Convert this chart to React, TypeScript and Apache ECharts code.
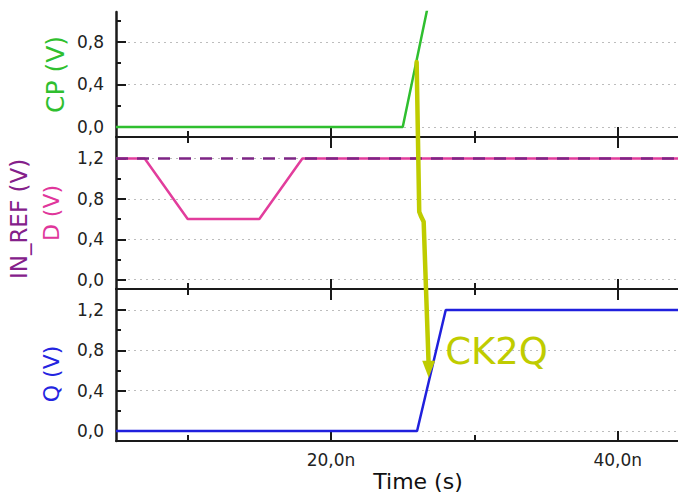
import React, { useEffect, useRef } from 'react';
import * as echarts from 'echarts';

// ---- data ----
const timeMin = 5;
const timeMax = 44.2;
const timeTicksMajor = [20, 40];
const timeTicksMinor = [10, 30];
const voltTicksMajor = [0, 0.4, 0.8, 1.2];
const voltTicksMinor = [0.2, 0.6, 1.0];

const cpTime = [5, 25, 26.85, 44.2];
const cpVolt = [0, 0, 1.2, 1.2];
const dTime = [5, 7, 10, 15, 18, 44.2];
const dVolt = [1.2, 1.2, 0.6, 0.6, 1.2, 1.2];
const inRefTime = [5, 44.2];
const inRefVolt = [1.2, 1.2];
const qTime = [5, 26, 28, 44.2];
const qVolt = [0, 0, 1.2, 1.2];

// annotation (CK2Q arrow) in data space: panel, time, volt
const annotPanel = [0, 1, 1, 1, 2, 2];
const annotTime = [25.97, 26.15, 26.29, 26.46, 26.8, 26.81];
const annotVolt = [0.612, 0.672, 0.622, 0.573, 0.686, 0.527];
const annotLabel = 'CK2Q';
const annotLabelTime = 27.96;
const annotLabelVolt = 0.785;

const FONT = 'DejaVu Sans';
const AXIS_COLOR = '#1a1a1a';
const fmtV = (v: number) => v.toFixed(1).replace('.', ',');
const fmtT = (v: number) => v.toFixed(1).replace('.', ',') + 'n';
const zip = (a: number[], b: number[]) => a.map((x, i) => [x, b[i]]);

const panels = [
  { top: 12, height: 125, min: -0.094, max: 1.082, name: 'CP (V)', color: '#2fbf2f', nameGap: 48, nameSize: 25 },
  { top: 137, height: 152, min: -0.092, max: 1.412, name: 'D (V)', color: '#e0369b', nameGap: 54, nameSize: 22 },
  { top: 289, height: 152, min: -0.099, max: 1.408, name: 'Q (V)', color: '#2424e0', nameGap: 54, nameSize: 22 },
];

export default function App() {
  const ref = useRef<HTMLDivElement>(null);
  useEffect(() => {
    if (!ref.current) return;
    const chart = echarts.init(ref.current, undefined, { renderer: 'svg' });

    const grids: any[] = [];
    const xAxes: any[] = [];
    const yAxes: any[] = [];
    const mainX: number[] = [];
    const mainY: number[] = [];

    const mkX = (g: number, position: string, ticks: number[], len: number, line: boolean, label: boolean) => {
      xAxes.push({
        type: 'value',
        gridIndex: g,
        position,
        min: timeMin,
        max: timeMax,
        axisLine: { show: line, onZero: false, lineStyle: { color: AXIS_COLOR, width: 2 } },
        axisTick: { show: true, inside: true, length: len, customValues: ticks, lineStyle: { color: AXIS_COLOR, width: 2 } },
        axisLabel: {
          show: label,
          customValues: ticks,
          formatter: fmtT,
          margin: 10,
          color: '#222',
          fontFamily: FONT,
          fontSize: 17,
        },
        splitLine: { show: false },
        ...(label
          ? {
              name: 'Time (s)',
              nameLocation: 'middle',
              nameGap: 29,
              nameMoveOverlap: false,
              nameTextStyle: { color: '#111', fontFamily: FONT, fontSize: 22, padding: [0, 0, 0, 42] },
            }
          : {}),
      });
      return xAxes.length - 1;
    };

    panels.forEach((p, g) => {
      grids.push({ left: 116, right: 0, top: p.top, height: p.height, containLabel: false, outerBoundsMode: 'none' });
      const majorVals = voltTicksMajor.filter((v) => v >= p.min && v <= p.max);
      const minorVals = voltTicksMinor.filter((v) => v >= p.min && v <= p.max);
      mainY[g] = yAxes.length;
      yAxes.push({
        type: 'value',
        gridIndex: g,
        position: 'left',
        min: p.min,
        max: p.max,
        minInterval: 0.4,
        maxInterval: 0.4,
        axisLine: { show: true, onZero: false, lineStyle: { color: AXIS_COLOR, width: 2.5 } },
        axisTick: { show: true, inside: true, length: 10, customValues: majorVals, lineStyle: { color: AXIS_COLOR, width: 2 } },
        axisLabel: { show: true, customValues: majorVals, formatter: fmtV, margin: 12, color: '#222', fontFamily: FONT, fontSize: 17 },
        splitLine: { show: true, lineStyle: { color: '#bdbdbd', width: 1, type: [2, 4] } },
        name: p.name,
        nameLocation: 'middle',
        nameGap: p.nameGap,
        nameMoveOverlap: false,
        nameTextStyle: { color: p.color, fontFamily: FONT, fontSize: p.nameSize, padding: g === 2 ? [0, 18, 0, 0] : 0 },
      });
      yAxes.push({
        type: 'value',
        gridIndex: g,
        position: 'left',
        min: p.min,
        max: p.max,
        axisLine: { show: false },
        axisTick: { show: true, inside: true, length: 5, customValues: minorVals, lineStyle: { color: AXIS_COLOR, width: 2 } },
        axisLabel: { show: false },
        splitLine: { show: false },
      });
      if (g === 1) {
        yAxes.push({
          type: 'value',
          gridIndex: g,
          position: 'left',
          min: p.min,
          max: p.max,
          axisLine: { show: false },
          axisTick: { show: false },
          axisLabel: { show: false },
          splitLine: { show: false },
          name: 'IN_REF (V)',
          nameLocation: 'middle',
          nameGap: 86,
          nameMoveOverlap: false,
          nameTextStyle: { color: '#84208a', fontFamily: FONT, fontSize: 23, padding: [0, 12, 0, 0] },
        });
      }
      mainX[g] = mkX(g, 'bottom', timeTicksMajor, 10, true, g === 2);
      mkX(g, 'bottom', timeTicksMinor, 6, false, false);
      if (g > 0) {
        mkX(g, 'top', timeTicksMajor, 11, false, false);
        mkX(g, 'top', timeTicksMinor, 6, false, false);
      }
    });

    const lineSeries = (g: number, name: string, data: number[][], color: string, extra: any = {}) => ({
      type: 'line',
      name,
      xAxisIndex: mainX[g],
      yAxisIndex: mainY[g],
      data,
      showSymbol: false,
      symbol: 'none',
      clip: true,
      lineStyle: { color, width: 2.5, ...extra },
      z: 3,
    });

    chart.setOption({
      animation: false,
      backgroundColor: '#ffffff',
      grid: grids,
      xAxis: xAxes,
      yAxis: yAxes,
      series: [
        lineSeries(0, 'CP', zip(cpTime, cpVolt), '#2fbf2f'),
        lineSeries(1, 'D', zip(dTime, dVolt), '#e23d9c'),
        { ...lineSeries(1, 'IN_REF', zip(inRefTime, inRefVolt), '#7d2585', { type: [12, 9] }), z: 4 },
        lineSeries(2, 'Q', zip(qTime, qVolt), '#2020dd'),
      ],
    });

    const pts = annotTime.map((t, i) =>
      chart.convertToPixel({ xAxisIndex: mainX[annotPanel[i]], yAxisIndex: mainY[annotPanel[i]] }, [t, annotVolt[i]]) as number[]
    );
    const tip = pts[pts.length - 1];
    const linePts = pts.slice(0, pts.length - 1);
    const lbl = chart.convertToPixel({ xAxisIndex: mainX[2], yAxisIndex: mainY[2] }, [annotLabelTime, annotLabelVolt]) as number[];
    const annotColor = '#bfcc00';

    chart.setOption({
      graphic: [
        {
          type: 'polyline',
          shape: { points: linePts },
          style: { stroke: annotColor, lineWidth: 4.5, fill: null, lineJoin: 'round', lineCap: 'round' },
          z: 100,
        },
        {
          type: 'polygon',
          shape: { points: [[tip[0] - 6.5, tip[1] - 17], [tip[0] + 6.5, tip[1] - 17], [tip[0], tip[1]]] },
          style: { fill: annotColor },
          z: 100,
        },
        {
          type: 'text',
          x: lbl[0],
          y: lbl[1],
          style: {
            text: annotLabel,
            fill: annotColor,
            font: `37px "${FONT}"`,
            textAlign: 'left',
            textVerticalAlign: 'middle',
          },
          z: 100,
        },
      ],
    });

    return () => chart.dispose();
  }, []);
  return <div ref={ref} style={{ position: 'fixed', left: 0, top: 0, width: 678, height: 497 }} />;
}
